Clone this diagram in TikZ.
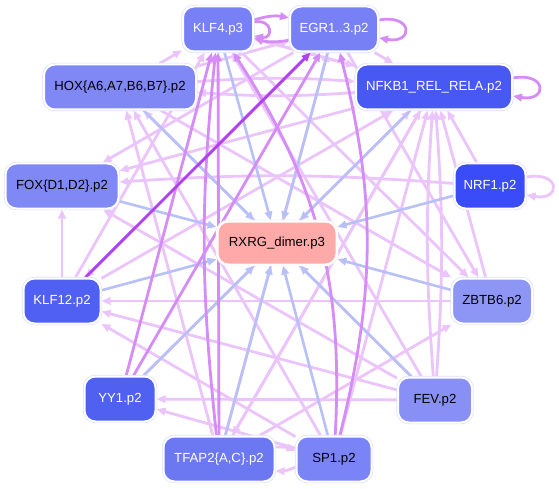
\documentclass[tikz,border=0pt]{standalone}
\usepackage{fontspec}
\setmainfont{Liberation Sans}
\usetikzlibrary{arrows.meta,backgrounds}
\definecolor{halo}{HTML}{DCDFFF}
\definecolor{cA}{HTML}{7880F6}
\definecolor{cHOX}{HTML}{7F88F5}
\definecolor{cNF}{HTML}{4858F2}
\definecolor{cFOX}{HTML}{8088F5}
\definecolor{cNRF}{HTML}{3A4CF8}
\definecolor{cRX}{HTML}{FFAAA8}
\definecolor{cK12}{HTML}{4F60F2}
\definecolor{cZB}{HTML}{8E96F5}
\definecolor{cYY}{HTML}{5060F0}
\definecolor{cFEV}{HTML}{8890F6}
\definecolor{cTF}{HTML}{6C78F2}
\definecolor{cSP}{HTML}{7A84F6}
\definecolor{eblue}{HTML}{B8C0F8}
\definecolor{elv}{HTML}{EAC4FA}
\definecolor{emv}{HTML}{D68CF6}
\definecolor{edk}{HTML}{B040F0}
\begin{document}
\begin{tikzpicture}[x=1pt,y=-1pt,
  nd/.style={rounded corners=11pt, minimum height=45pt, inner sep=0pt,
    font=\fontsize{13.2}{15}\selectfont,
    preaction={draw=halo,line width=3.4pt}, draw=white, line width=2pt},
  tip/.style={-{Triangle[length=9pt,width=7.5pt]}},
  eb/.style={draw=eblue, line width=2.6pt, tip},
  lv/.style={draw=elv, line width=2.8pt, tip},
  mv/.style={draw=emv, line width=2.8pt, tip},
  dk/.style={draw=edk, line width=2.8pt, tip},
  lp/.style={out=10, in=-10, looseness=5}
]
\useasboundingbox (0,0) rectangle (559,489);
% nodes
\node[nd, fill=cA, text=white, minimum width=70pt] (KLF4) at (218,29) {KLF4.p3};
\node[nd, fill=cA, text=white, minimum width=88pt] (EGR) at (334,29) {EGR1..3.p2};
\node[nd, fill=cHOX, minimum width=152pt] (HOX) at (120,87) {HOX\{A6,A7,B6,B7\}.p2};
\node[nd, fill=cNF, text=white, minimum width=156pt] (NF) at (434,87) {NFKB1\_REL\_RELA.p2};
\node[nd, fill=cFOX, minimum width=113pt] (FOX) at (62,186) {FOX\{D1,D2\}.p2};
\node[nd, fill=cNRF, text=white, minimum width=71pt] (NRF) at (490,186) {NRF1.p2};
\node[nd, fill=cRX, minimum width=119pt, minimum height=43pt, preaction={draw=white!90!cRX,line width=3.4pt}] (RX) at (277,243) {RXRG\_dimer.p3};
\node[nd, fill=cK12, text=white, minimum width=77pt] (K12) at (62,301) {KLF12.p2};
\node[nd, fill=cZB, minimum width=80pt] (ZB) at (492,301) {ZBTB6.p2};
\node[nd, fill=cYY, text=white, minimum width=71pt] (YY) at (120,399) {YY1.p2};
\node[nd, fill=cFEV, minimum width=74pt] (FEV) at (435,400) {FEV.p2};
\node[nd, fill=cTF, text=white, minimum width=111pt] (TF) at (219,459) {TFAP2\{A,C\}.p2};
\node[nd, fill=cSP, minimum width=75pt] (SP) at (334,459) {SP1.p2};
\begin{pgfonlayer}{background}
% light violet edges
\draw[lv] (HOX) to[bend left=4] (NF);
\draw[lv] (NF) to[bend left=4] (HOX);
\draw[lv] (HOX) -- (KLF4);
\draw[lv] (HOX) -- (EGR);
\draw[lv] (KLF4) -- (NF);
\draw[lv] (EGR) -- (NF);
\draw[lv] (NF) -- (KLF4);
\draw[lv] (EGR) -- (FOX);
\draw[lv] (NF) -- (FOX);
\draw[lv] (NRF) to[bend right=4] (FOX);
\draw[lv] (K12) -- (FOX);
\draw[lv] (HOX) -- (ZB);
\draw[lv] (KLF4) -- (ZB);
\draw[lv] (EGR) -- (ZB);
\draw[lv] (K12) -- (NF);
\draw[lv] (YY) -- (NF);
\draw[lv] (TF) -- (NF);
\draw[lv] (SP) -- (NF);
\draw[lv] (FEV) to[bend left=4] (NF);
\draw[lv] (FEV) to[bend right=4] (NF);
\draw[lv] (ZB) -- (NF);
\draw[lv] (NRF) -- (NF);
\draw[lv] (FEV) -- (K12);
\draw[lv] (SP) -- (K12);
\draw[lv] (ZB) -- (K12);
\draw[lv] (SP) -- (YY);
\draw[lv] (FEV) -- (YY);
\draw[lv] (TF) -- (EGR);
\draw[lv] (SP) -- (HOX);
\draw[lv] (TF) -- (HOX);
\draw[lv] (FEV) -- (HOX);
\draw[lv] (K12) -- (KLF4);
\draw[lv] (FEV) -- (FOX);
\draw[lv] (FEV) -- (KLF4);
\draw[lv] (TF) -- (ZB);
\draw[lv] (NF) -- (TF);
\draw[lv] (EGR) -- (K12);
\draw[lv] (TF) to[bend left=12] (SP);
\draw[lv] (SP) to[bend left=12] (TF);
\draw[lv] ([yshift=9pt]NRF.east) to[lp] ([yshift=-9pt]NRF.east);
% blue edges into RXRG
\foreach \n in {KLF4,EGR,HOX,NF,FOX,NRF,K12,ZB,YY,FEV,TF,SP}
  \draw[eb] (\n) -- (RX);
% medium violet edges
\draw[mv] (TF) -- (KLF4);
\draw[mv] (TF) to[bend left=6] (KLF4);
\draw[mv] (YY) -- (KLF4);
\draw[mv] (YY) -- (EGR);
\draw[mv] (SP) to[bend right=18] (KLF4);
\draw[mv] (SP) to[bend right=14] (EGR);
\draw[mv] (KLF4) to[bend left=14] (EGR);
\draw[mv] (EGR) to[bend left=14] (KLF4);
\draw[mv] ([yshift=7pt]KLF4.east) to[out=10,in=-10,looseness=3.6] ([yshift=-7pt]KLF4.east);
\draw[mv] ([yshift=9pt]EGR.east) to[lp] ([yshift=-9pt]EGR.east);
\draw[mv] ([yshift=9pt]NF.east) to[lp] ([yshift=-9pt]NF.east);
% dark edge
\draw[dk] (K12) -- (EGR);
\end{pgfonlayer}
\end{tikzpicture}
\end{document}
